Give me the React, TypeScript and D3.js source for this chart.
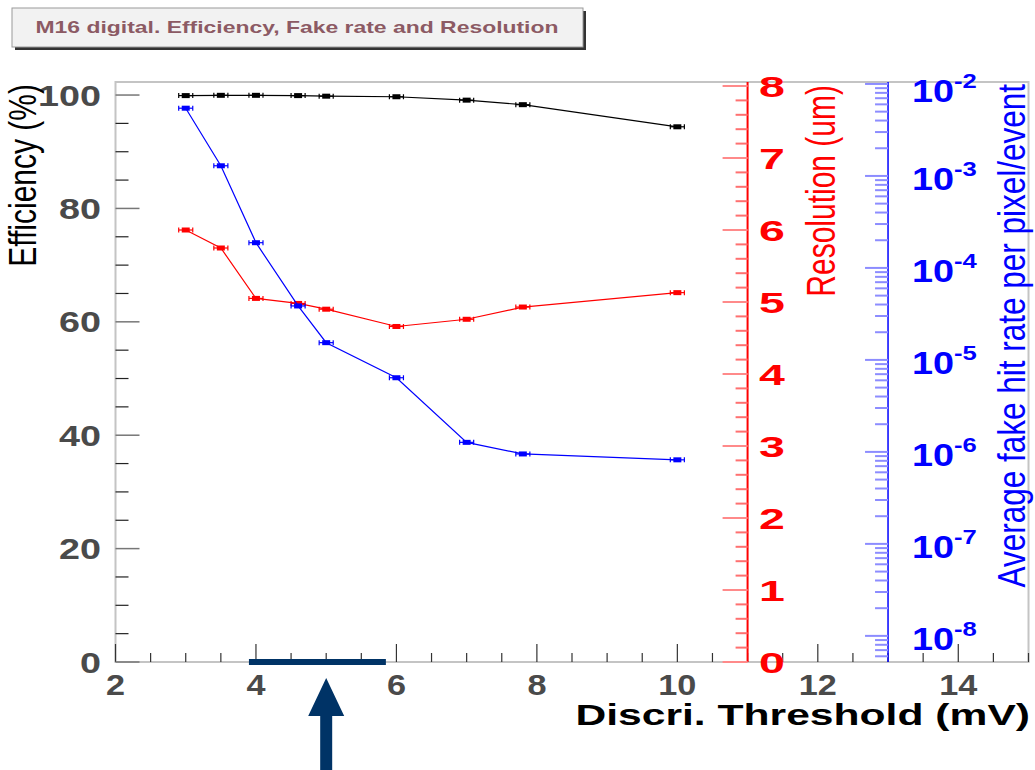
import React from 'react'
import * as d3 from 'd3'

// threshold scan (mV) and the three measured quantities
const thresholds = [3, 3.5, 4, 4.6, 5, 6, 7, 7.8, 10]
const efficiency = [99.9, 99.95, 99.95, 99.9, 99.8, 99.7, 99.1, 98.3, 94.4]
const resolution = [6.0, 5.75, 5.05, 4.98, 4.9, 4.66, 4.76, 4.93, 5.13]
const fakeRate = [5.45e-3, 1.29e-3, 1.88e-4, 3.86e-5, 1.54e-5, 6.4e-6, 1.27e-6, 9.5e-7, 8.2e-7]
const xErr = 0.1

const xTicks = [2, 4, 6, 8, 10, 12, 14]
const effTicks = [0, 20, 40, 60, 80, 100]
const resTicks = [0, 1, 2, 3, 4, 5, 6, 7, 8]
const fakeExps = [-8, -7, -6, -5, -4, -3, -2]

const W = 1035
const H = 770
const L = 115.5
const R = 1028.5
const T = 82
const B = 662

const FONT = "'Liberation Sans', Arial, Helvetica, sans-serif"
const SX = 1.3

const x = d3.scaleLinear().domain([2, 15]).range([L, R])
const yEff = d3.scaleLinear().domain([0, 102.3]).range([B, T])
const yRes = d3.scaleLinear().domain([0, 8]).range([B, 86])
const yFake = d3.scaleLog().domain([5.2e-9, 1.05e-2]).range([B, T])
const redX = x(11)
const blueX = x(13)

function Txt({ x, y, anchor = 'start', size, fill, weight = 'bold', sx = SX, rot = false, children }: any) {
  return (
    <g transform={`translate(${x},${y}) scale(${sx},1)${rot ? ' rotate(-90)' : ''}`}>
      <text textAnchor={anchor} fontFamily={FONT} fontSize={size} fontWeight={weight} fill={fill}>
        {children}
      </text>
    </g>
  )
}

function Series({ values, y, color }: any) {
  const line = d3.line<number>()
    .x((_, i) => x(thresholds[i]))
    .y(d => y(d))
  return (
    <g>
      <path d={line(values) || ''} fill="none" stroke={color} strokeWidth={1.2} />
      {values.map((v: number, i: number) => {
        const cx = x(thresholds[i])
        const cy = y(v)
        const x0 = x(thresholds[i] - xErr)
        const x1 = x(thresholds[i] + xErr)
        return (
          <g key={i} stroke={color} strokeWidth={1.2}>
            <line x1={x0} x2={x1} y1={cy} y2={cy} />
            <line x1={x0} x2={x0} y1={cy - 2.5} y2={cy + 2.5} />
            <line x1={x1} x2={x1} y1={cy - 2.5} y2={cy + 2.5} />
            <rect x={cx - 4} y={cy - 2.5} width={8} height={5} fill={color} stroke="none" />
          </g>
        )
      })}
    </g>
  )
}

export default function App() {
  const xMinor = d3.range(2, 15.001, 0.5).filter(v => !xTicks.includes(v))
  const effMinor = d3.range(0, 101, 5).filter(v => !effTicks.includes(v))
  const resMinor = d3.range(0, 8.001, 0.2).filter(v => Math.abs(v - Math.round(v)) > 0.01)
  const [f0, f1] = yFake.domain()
  const fakeMinor = d3.range(-9, -1)
    .flatMap(e => d3.range(2, 10).map(k => k * Math.pow(10, e)))
    .filter(v => v >= f0 && v <= f1)

  return (
    <svg width={W} height={H} style={{ position: 'absolute', left: 0, top: 0, background: '#fff' }}>
      {/* title box */}
      <rect x={15} y={11} width={571} height={39} fill="#333" />
      <rect x={12} y={8} width={571} height={39} fill="#f2f2f2" stroke="#9a9a9a" strokeWidth={1} />
      <text x={297} y={33} textAnchor="middle" fontFamily={FONT} fontSize={17} fontWeight="bold"
        fill="#8c5a64" textLength={523} lengthAdjust="spacingAndGlyphs">
        M16 digital. Efficiency, Fake rate and Resolution
      </text>

      {/* frame */}
      <rect x={L} y={T} width={R - L} height={B - T} fill="none" stroke="#c4c4c4" strokeWidth={2} />

      {/* x axis */}
      {xTicks.map(t => (
        <g key={'xt' + t}>
          <line x1={x(t)} x2={x(t)} y1={B} y2={B - 18} stroke="#333" strokeWidth={1.2} />
          <Txt x={x(t)} y={695} anchor="middle" size={29} fill="#4a4a4a" sx={1.18}>{t}</Txt>
        </g>
      ))}
      {xMinor.map(t => (
        <line key={'xm' + t} x1={x(t)} x2={x(t)} y1={B} y2={B - 9} stroke="#333" strokeWidth={1.2} />
      ))}
      <Txt x={1030} y={725} anchor="end" size={29} fill="#000" sx={1.47}>Discri. Threshold (mV)</Txt>

      {/* efficiency axis */}
      {effTicks.map(t => (
        <g key={'et' + t}>
          <line x1={L} x2={L + 24} y1={yEff(t)} y2={yEff(t)} stroke="#777" strokeWidth={1.5} />
          <Txt x={101} y={yEff(t) + 10.5} anchor="end" size={29} fill="#4a4a4a">{t}</Txt>
        </g>
      ))}
      {effMinor.map(t => (
        <line key={'em' + t} x1={L} x2={L + 13} y1={yEff(t)} y2={yEff(t)} stroke="#222" strokeWidth={1.2} />
      ))}
      <Txt x={36} y={84} anchor="end" size={30} fill="#000" weight="normal" sx={1.3} rot>Efficiency (%)</Txt>

      {/* resolution axis */}
      <line x1={redX} x2={redX} y1={T} y2={B} stroke="#ff0000" strokeWidth={2} />
      {resTicks.map(t => (
        <g key={'rt' + t}>
          <line x1={redX - 25} x2={redX} y1={yRes(t)} y2={yRes(t)} stroke="#ff8a8a" strokeWidth={2} />
          <Txt x={759} y={yRes(t) + 11} size={30} fill="#ff0000" sx={1.55}>{t}</Txt>
        </g>
      ))}
      {resMinor.map(t => (
        <line key={'rm' + t} x1={redX - 12} x2={redX} y1={yRes(t)} y2={yRes(t)} stroke="#ff7070" strokeWidth={2} />
      ))}
      <Txt x={835} y={85} anchor="end" size={30} fill="#ff0000" weight="normal" sx={1.35} rot>Resolution (um)</Txt>

      {/* fake rate axis */}
      <line x1={blueX} x2={blueX} y1={T} y2={B} stroke="#0000ff" strokeWidth={1.5} />
      {fakeExps.map(e => {
        const yy = yFake(Math.pow(10, e))
        return (
          <g key={'ft' + e}>
            <line x1={blueX - 23} x2={blueX} y1={yy} y2={yy} stroke="#8c8cff" strokeWidth={2} />
            <g transform={`translate(912,${yy + (e === -2 ? 18 : 14)}) scale(1.22,1)`}>
              <text fontFamily={FONT} fontSize={31} fontWeight="bold" fill="#0000ff">
                10<tspan dy={-14} fontSize={21}>{e}</tspan>
              </text>
            </g>
          </g>
        )
      })}
      {fakeMinor.map((v, i) => (
        <line key={'fm' + i} x1={blueX - 13} x2={blueX} y1={yFake(v)} y2={yFake(v)} stroke="#8c8cff" strokeWidth={2} />
      ))}
      <Txt x={1025} y={84} anchor="end" size={31.5} fill="#0000ff" weight="normal" sx={1.25} rot>
        Average fake hit rate per pixel/event
      </Txt>

      {/* data */}
      <Series values={efficiency} y={yEff} color="#000000" />
      <Series values={resolution} y={yRes} color="#ff0000" />
      <Series values={fakeRate} y={yFake} color="#0000ff" />

      {/* highlighted threshold window and arrow */}
      <line x1={x(3.9)} x2={x(5.85)} y1={B} y2={B} stroke="#003366" strokeWidth={6} />
      <path d={`M${x(5) - 6},770 V716 H${x(5) - 18} L${x(5)},678 L${x(5) + 18},716 H${x(5) + 6} V770 Z`} fill="#003366" />
    </svg>
  )
}
